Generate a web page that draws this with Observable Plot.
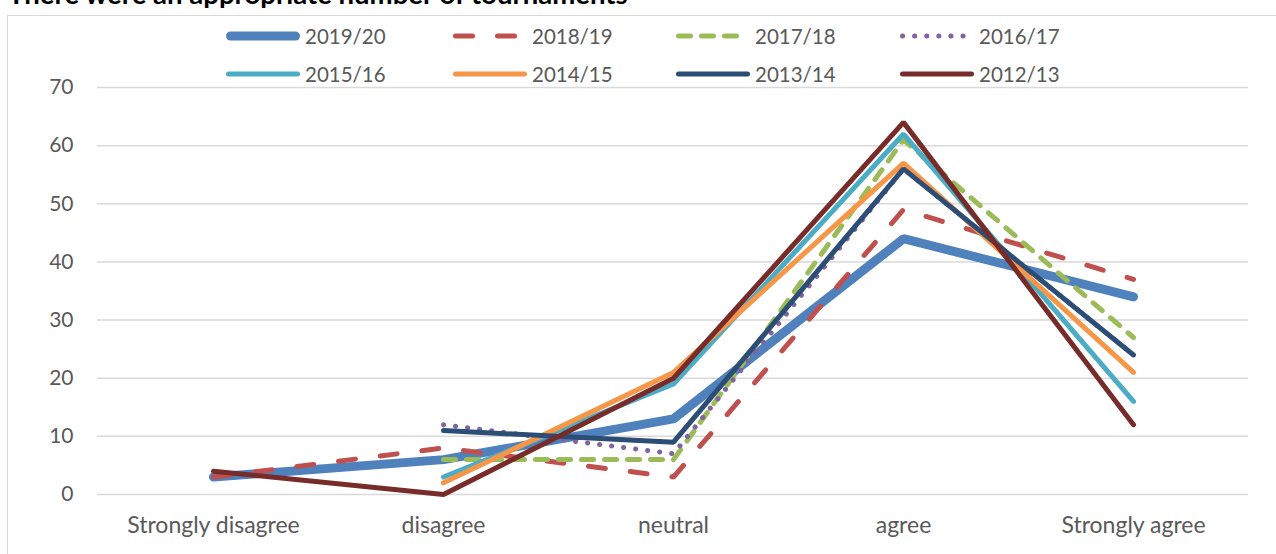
<!DOCTYPE html>
<html>
<head>
<meta charset="utf-8">
<script src="https://cdn.jsdelivr.net/npm/d3@7"></script>
<script src="https://cdn.jsdelivr.net/npm/@observablehq/plot@0.6"></script>
<style>
  html, body { margin: 0; padding: 0; background: #fff; overflow: hidden; }
  #wrap { position: relative; width: 1276px; height: 554px; overflow: hidden; }
  #frame { position: absolute; left: 7px; top: 15px; width: 1300px; height: 600px; border: 1.5px solid #d9d9d9; box-sizing: border-box; }
  #titleSvg { position: absolute; left: 0; top: 0; overflow: visible; }
  #chart { position: absolute; left: 0; top: 0; }
  #legend { position: absolute; left: 0; top: 0; width: 1276px; height: 90px; font-family: Lato, sans-serif; font-size: 20.5px; color: #595959; }
  .item { position: absolute; height: 20px; display: flex; align-items: center; white-space: nowrap; }
  .item svg { margin-right: 5px; overflow: visible; }
</style>
</head>
<body>
<div id="wrap">
  <div id="frame"></div>
  <svg id="titleSvg" width="1276" height="20"><text id="title" x="8" y="4" font-family="Lato, sans-serif" font-weight="bold" font-size="24" fill="#000">There were an appropriate number of tournaments</text></svg>
  <div id="chart"></div>
  <div id="legend"></div>
</div>
<script>
// ---- data ----
const categories = ["Strongly disagree", "disagree", "neutral", "agree", "Strongly agree"];
const seriesNames = ["2019/20", "2018/19", "2017/18", "2016/17", "2015/16", "2014/15", "2013/14", "2012/13"];
const v2019_20 = [3, 6, 13, 44, 34];
const v2018_19 = [3, 8, 3, 49, 37];
const v2017_18 = [null, 6, 6, 61, 27];
const v2016_17 = [null, 12, 7, 56, 24];
const v2015_16 = [null, 3, 19, 62, 16];
const v2014_15 = [null, 2, 21, 57, 21];
const v2013_14 = [null, 11, 9, 56, 24];
const v2012_13 = [4, 0, 20, 64, 12];
const yTicks = [0, 10, 20, 30, 40, 50, 60, 70];

const seriesValues = [v2019_20, v2018_19, v2017_18, v2016_17, v2015_16, v2014_15, v2013_14, v2012_13];
const colors = ["#4F81BD", "#C0504D", "#9BBB59", "#8064A2", "#4BACC6", "#F79646", "#2C4D75", "#772C2A"];
const widths = [9, 5, 5, 5, 5, 5, 5, 5];
const dashes = [null, "17,25", "12,11", "0.1,12", null, null, null, null];

// fit title width to the reference (~620px)
const titleEl = document.getElementById("title");
const tw = titleEl.getComputedTextLength();
if (tw > 0) titleEl.setAttribute("font-size", (24 * 620 / tw).toFixed(2));

const rows = [];
seriesNames.forEach((s, i) => {
  seriesValues[i].forEach((v, j) => {
    if (v !== null) rows.push({series: s, cat: categories[j], value: v});
  });
});

const lineMarks = seriesNames.map((s, i) => Plot.line(rows.filter(d => d.series === s), {
  x: "cat", y: "value",
  stroke: colors[i], strokeWidth: widths[i],
  strokeDasharray: dashes[i] || undefined,
  strokeLinecap: "round", strokeLinejoin: "miter"
}));

const chart = Plot.plot({
  width: 1276,
  height: 554,
  marginLeft: 97,
  marginRight: 28,
  marginTop: 87,
  marginBottom: 60,
  style: {fontFamily: "Lato, sans-serif", fontSize: "21px", color: "#595959", background: "transparent", overflow: "visible"},
  x: {type: "point", domain: categories, padding: 0.5, label: null},
  y: {domain: [0, 70], ticks: yTicks, label: null},
  marks: [
    Plot.gridY(yTicks, {stroke: "#d9d9d9", strokeOpacity: 1, strokeWidth: 1.5}),
    Plot.axisY(yTicks, {tickSize: 0, tickPadding: 24, label: null, fill: "#595959", fontSize: 21}),
    Plot.axisX({tickSize: 0, tickPadding: 22, label: null, fill: "#595959", fontSize: 23}),
    ...lineMarks
  ]
});
document.getElementById("chart").appendChild(chart);

// ---- legend ----
const legend = document.getElementById("legend");
const legendX = [226, 453, 676, 900];
const legendY = [36, 74];
seriesNames.forEach((s, i) => {
  const item = document.createElement("div");
  item.className = "item";
  item.style.left = legendX[i % 4] + "px";
  item.style.top = (legendY[Math.floor(i / 4)] - 10) + "px";
  const ns = "http://www.w3.org/2000/svg";
  const svg = document.createElementNS(ns, "svg");
  svg.setAttribute("width", 74);
  svg.setAttribute("height", 20);
  const ln = document.createElementNS(ns, "line");
  const w = widths[i];
  ln.setAttribute("x1", w / 2);
  ln.setAttribute("x2", 74 - w / 2);
  ln.setAttribute("y1", 10);
  ln.setAttribute("y2", 10);
  ln.setAttribute("stroke", colors[i]);
  ln.setAttribute("stroke-width", w);
  ln.setAttribute("stroke-linecap", "round");
  if (dashes[i]) ln.setAttribute("stroke-dasharray", dashes[i]);
  svg.appendChild(ln);
  item.appendChild(svg);
  const t = document.createElement("span");
  t.textContent = s;
  item.appendChild(t);
  legend.appendChild(item);
});
</script>
</body>
</html>
